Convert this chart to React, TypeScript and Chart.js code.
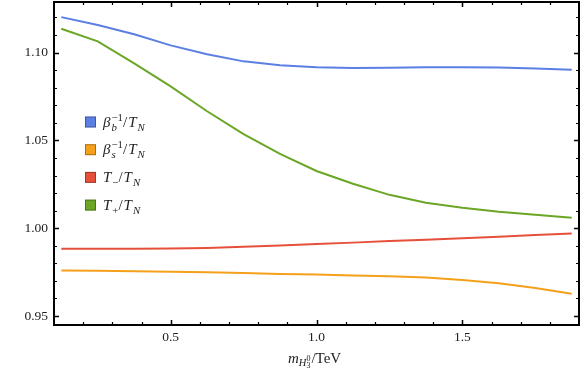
import React, { useEffect, useRef } from "react";
import { Chart, registerables } from "chart.js";
Chart.register(...registerables);

const masses = [0.125, 0.25, 0.375, 0.5, 0.625, 0.75, 0.875, 1.0, 1.125, 1.25, 1.375, 1.5, 1.625, 1.75, 1.875];
const betaB = [1.1202, 1.1157, 1.1104, 1.1041, 1.099, 1.095, 1.0928, 1.0917, 1.0912, 1.0914, 1.0917, 1.0917, 1.0915, 1.0909, 1.0902];
const betaS = [0.976, 0.9758, 0.9755, 0.9752, 0.9749, 0.9745, 0.974, 0.9736, 0.9731, 0.9727, 0.972, 0.9705, 0.9687, 0.966, 0.9627];
const tMinus = [0.9883, 0.9883, 0.9883, 0.9885, 0.9888, 0.9895, 0.9902, 0.991, 0.9918, 0.9927, 0.9935, 0.9943, 0.9952, 0.9961, 0.997];
const tPlus = [1.1136, 1.1064, 1.0939, 1.0808, 1.0666, 1.0536, 1.0423, 1.0326, 1.0253, 1.019, 1.0145, 1.0116, 1.0094, 1.0077, 1.006];
const xMajorTicks = [0.5, 1.0, 1.5];
const yMajorTicks = [0.95, 1.0, 1.05, 1.1];
const xTickLabels = ["0.5", "1.0", "1.5"];
const yTickLabels = ["0.95", "1.00", "1.05", "1.10"];

const colors = ["#5b7fe3", "#f5a01b", "#e6503a", "#6ba626"];
const FONT = "'Liberation Serif', 'DejaVu Serif', serif";

type Part = { t: string; style?: "i" | "n"; pos?: "sub" | "sup" };
const legendLabels: Part[][] = [
  [{ t: "β", style: "i" }, { t: "b", style: "i", pos: "sub" }, { t: "−1", pos: "sup" }, { t: "/" }, { t: "T", style: "i" }, { t: "N", style: "i", pos: "sub" }],
  [{ t: "β", style: "i" }, { t: "s", style: "i", pos: "sub" }, { t: "−1", pos: "sup" }, { t: "/" }, { t: "T", style: "i" }, { t: "N", style: "i", pos: "sub" }],
  [{ t: "T", style: "i" }, { t: "−", pos: "sub" }, { t: "/" }, { t: "T", style: "i" }, { t: "N", style: "i", pos: "sub" }],
  [{ t: "T", style: "i" }, { t: "+", pos: "sub" }, { t: "/" }, { t: "T", style: "i" }, { t: "N", style: "i", pos: "sub" }],
];
const seriesNames = ["β_b^-1/T_N", "β_s^-1/T_N", "T_-/T_N", "T_+/T_N"];

function drawRich(ctx: CanvasRenderingContext2D, parts: Part[], x: number, y: number, size: number) {
  let cx = x;
  let subStart = x;
  for (let i = 0; i < parts.length; i++) {
    const p = parts[i];
    const small = p.pos ? size * 0.72 : size;
    ctx.font = `${p.style === "i" ? "italic " : ""}${small}px ${FONT}`;
    let dy = 0;
    let px = cx;
    if (p.pos === "sub") { dy = size * 0.28; }
    else if (p.pos === "sup") { dy = -size * 0.4; px = subStart; }
    ctx.fillText(p.t, px, y + dy);
    const w = ctx.measureText(p.t).width;
    if (p.pos === "sub") { subStart = cx; cx = cx + w; }
    else if (p.pos === "sup") { cx = Math.max(cx, px + w); }
    else { cx = cx + w + 1; subStart = cx; }
  }
}

const framePlugin = {
  id: "frame",
  afterDatasetsDraw(chart: any) {
    const { ctx, chartArea, scales } = chart;
    const { left, right, top, bottom } = chartArea;
    const xs = scales.x, ys = scales.y;
    ctx.save();
    ctx.strokeStyle = "#000";
    ctx.lineWidth = 2;
    ctx.strokeRect(left, top, right - left, bottom - top);
    for (let k = 1; k <= 19; k++) {
      const vv = k / 10;
      const px = Math.round(xs.getPixelForValue(vv)) + 0.5;
      const major = xMajorTicks.some((m) => Math.abs(m - vv) < 1e-6);
      const len = major ? 5 : 3;
      if (px <= left + 1 || px >= right - 1) continue;
      ctx.lineWidth = major ? 1.5 : 1.2;
      ctx.beginPath();
      ctx.moveTo(px, bottom); ctx.lineTo(px, bottom - len);
      ctx.moveTo(px, top); ctx.lineTo(px, top + len);
      ctx.stroke();
    }
    for (let k = 95; k <= 112; k++) {
      const vv = k / 100;
      const py = Math.round(ys.getPixelForValue(vv)) + 0.5;
      const major = yMajorTicks.some((m) => Math.abs(m - vv) < 1e-6);
      const len = major ? 5 : 3;
      if (py <= top + 1 || py >= bottom - 1) continue;
      ctx.lineWidth = major ? 1.5 : 1.2;
      ctx.beginPath();
      ctx.moveTo(left, py); ctx.lineTo(left + len, py);
      ctx.moveTo(right, py); ctx.lineTo(right - len, py);
      ctx.stroke();
    }
    ctx.fillStyle = "#222";
    ctx.font = `13.5px ${FONT}`;
    ctx.textAlign = "center";
    ctx.textBaseline = "top";
    xMajorTicks.forEach((v, i) => ctx.fillText(xTickLabels[i], xs.getPixelForValue(v), bottom + 6));
    ctx.textAlign = "right";
    ctx.textBaseline = "middle";
    yMajorTicks.forEach((v, i) => ctx.fillText(yTickLabels[i], left - 6, ys.getPixelForValue(v)));

    // x title
    ctx.textAlign = "left";
    ctx.textBaseline = "alphabetic";
    const tx = 288, ty = 363;
    ctx.font = `italic 15px ${FONT}`;
    ctx.fillText("m", tx, ty);
    let cx = tx + ctx.measureText("m").width;
    ctx.font = `italic 10.5px ${FONT}`;
    ctx.fillText("H", cx, ty + 3);
    cx += ctx.measureText("H").width;
    ctx.font = `8px ${FONT}`;
    ctx.fillText("0", cx, ty - 2);
    ctx.fillText("3", cx, ty + 5);
    cx += ctx.measureText("3").width + 1;
    ctx.font = `15px ${FONT}`;
    ctx.fillText("/TeV", cx, ty);

    // legend
    const lx = 85, ly0 = 122, dyl = 27.7;
    legendLabels.forEach((parts, i) => {
      const cy = ly0 + i * dyl;
      ctx.fillStyle = colors[i];
      ctx.fillRect(lx, cy - 5.5, 11, 11);
      ctx.strokeStyle = "rgba(0,0,0,0.3)";
      ctx.lineWidth = 1;
      ctx.strokeRect(lx + 0.5, cy - 5, 10, 10);
      ctx.fillStyle = "#222";
      ctx.textAlign = "left";
      ctx.textBaseline = "alphabetic";
      drawRich(ctx, parts, 103, cy + 4.5, 15);
    });
    ctx.restore();
  },
};

export default function App() {
  const ref = useRef<HTMLCanvasElement>(null);
  useEffect(() => {
    document.body.style.margin = "0";
    const series = [betaB, betaS, tMinus, tPlus];
    const chart = new Chart(ref.current!, {
      type: "line",
      data: {
        datasets: series.map((s, i) => ({
          label: seriesNames[i],
          data: masses.map((m, j) => ({ x: m, y: s[j] })),
          borderColor: colors[i],
          borderWidth: 2,
          pointRadius: 0,
          tension: 0,
          fill: false,
        })),
      },
      options: {
        animation: false,
        responsive: false,
        layout: { padding: { left: 54, right: 2, top: 2, bottom: 46 } },
        plugins: { legend: { display: false }, tooltip: { enabled: false } },
        scales: {
          x: { type: "linear", min: 0.1, max: 1.9, display: false },
          y: { type: "linear", min: 0.9449, max: 1.1288, display: false },
        },
      },
      plugins: [framePlugin],
    });
    return () => chart.destroy();
  }, []);
  return <canvas ref={ref} width={581} height={371} style={{ display: "block" }} />;
}
